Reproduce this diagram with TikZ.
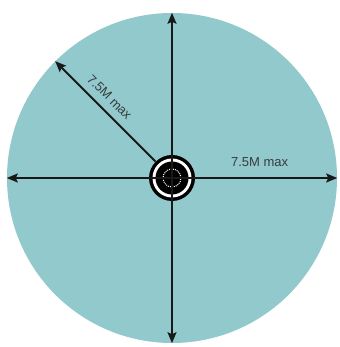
\documentclass[tikz,border=0pt]{standalone}
\usepackage{fontspec}
\setsansfont{Liberation Sans}
\usetikzlibrary{arrows.meta, positioning, calc}
\definecolor{PoolTeal}{RGB}{146, 201, 204}
\definecolor{LabelGrey}{RGB}{55, 60, 62}
\definecolor{ArrowInk}{RGB}{25, 25, 25}
\tikzset{
  disc/.style={circle, inner sep=0pt},
  spanline/.style={{Stealth[length=11pt, width=9pt, inset=2pt]}-{Stealth[length=11pt, width=9pt, inset=2pt]}, line width=1.8pt, ArrowInk},
  reachline/.style={-{Stealth[length=11pt, width=9pt, inset=2pt]}, line width=1.8pt, ArrowInk},
  rangetext/.style={font=\sffamily\fontsize{13}{13}\selectfont, text=LabelGrey, inner sep=0pt}
}
\begin{document}
\begin{tikzpicture}[x=1pt, y=1pt]
    \useasboundingbox (0,0) rectangle (339,347);
    \node[disc, fill=PoolTeal, minimum size=330pt] (area) at (172,169) {};

    % hub at the centre
    \node[disc, fill=black, minimum size=46pt] (hub) at (area.center) {};
    \node[disc, fill=white, minimum size=39pt] (hubring) at (hub.center) {};
    \node[disc, fill=black, minimum size=33pt] (hubcore) at (hub.center) {};
    \node[disc, draw=white, densely dotted, line width=1pt, minimum size=18pt] (hubeye) at (hub.center) {};

    \draw[spanline] (area.west) -- (area.east);
    \draw[spanline] (area.north) -- (area.south);
    \draw[reachline] (hub.135) -- (area.135) node[rangetext, pos=0.55, above=7.5pt, sloped] {7.5M max};
    \path (hub.center) -- (area.east) node[rangetext, pos=0.53, above=11pt] (eastlabel) {7.5M max};
  \end{tikzpicture}
\end{document}
